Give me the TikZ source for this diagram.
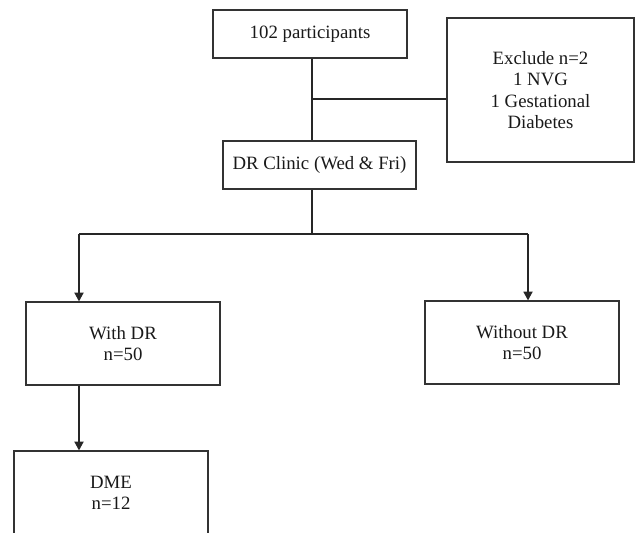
\documentclass[tikz,border=0pt]{standalone}
\usepackage{fontspec}
\setmainfont{Liberation Serif}
\usepackage{tikz}
\usetikzlibrary{positioning,arrows.meta}

\begin{document}
\begin{tikzpicture}[x=0.5pt,y=-0.5pt,
  stage/.style={draw=black!80,rectangle,align=center,line width=0.6pt,inner sep=2pt,
    minimum width=97pt,minimum height=24pt,font=\fontsize{9.4}{10.6}\selectfont,text=black!90},
  tall/.style={stage,minimum height=41.5pt},
  link/.style={draw=black!85,line width=0.6pt},
  arr/.style={link,-{Triangle[width=4.6pt,length=4.4pt]}}]
  \useasboundingbox (0,0) rectangle (635,533);
  \clip (0,0) rectangle (635,533);
  \node[stage] (parts) at (310,34) {102 participants};
  \node[stage,minimum width=93.5pt,minimum height=72pt] (excl) at (540.5,90)
    {Exclude n=2\\1 NVG\\1 Gestational\\Diabetes};
  \node[stage,minimum width=96.5pt] (clinic) at (319.5,165) {DR Clinic (Wed \& Fri)};
  \node[tall] (withdr) at (123,343.5) {With DR\\n=50};
  \node[tall] (nodr) at (522,342.5) {Without DR\\n=50};
  \node[tall] (dme) at (111,492.5) {DME\\n=12};
  \coordinate (split) at (312,99);
  \coordinate (fork) at (312,234);
  \coordinate (lhook) at (79,234);
  \coordinate (rhook) at (528,234);
  \draw[link] (parts.south -| split) -- (clinic.north -| split);
  \draw[link] (split) -- (split -| excl.west);
  \draw[link] (clinic.south -| fork) -- (fork);
  \draw[link] (lhook) -- (rhook);
  \draw[arr] (lhook) -- (withdr.north -| lhook);
  \draw[arr] (rhook) -- (nodr.north -| rhook);
  \draw[arr] (withdr.south -| lhook) -- (dme.north -| lhook);
\end{tikzpicture}
\end{document}
